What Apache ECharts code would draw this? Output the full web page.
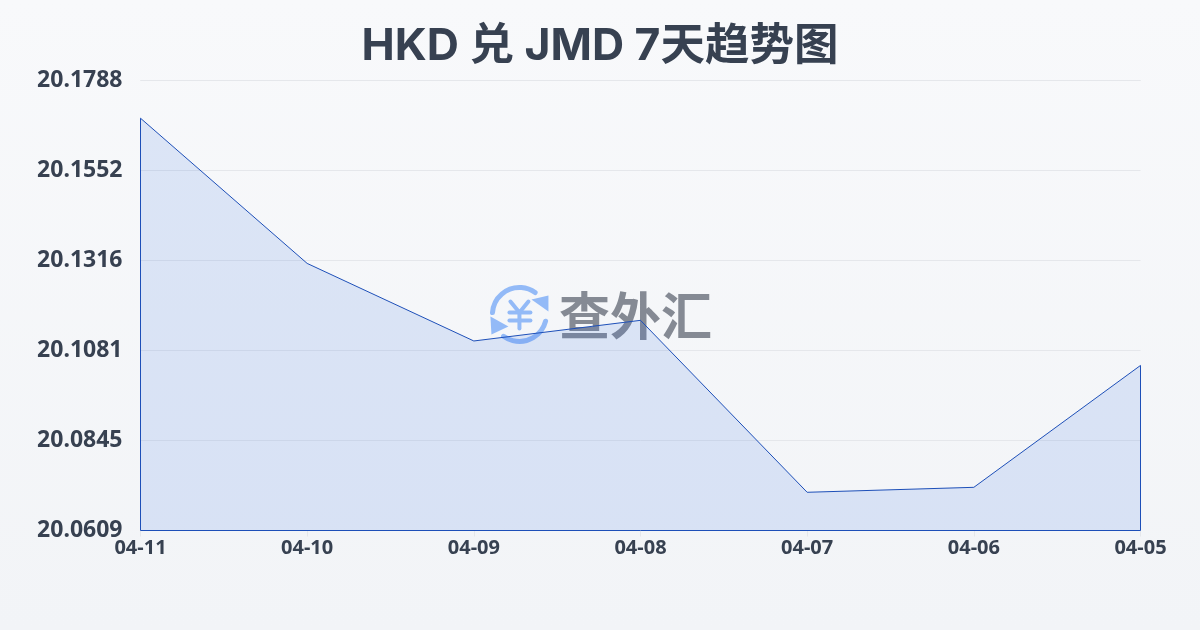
<!DOCTYPE html>
<html><head><meta charset="utf-8">
<style>html,body{margin:0;padding:0;background:#f5f6f9}#c{width:1200px;height:630px}</style>
<script src="https://cdn.jsdelivr.net/npm/echarts@6/dist/echarts.min.js"></script>
</head><body><div id="c"></div>
<script>
const titleText = 'HKD 兑 JMD 7天趋势图';
const dates = ['04-11','04-10','04-09','04-08','04-07','04-06','04-05'];
const rates = [20.1688,20.1308,20.1105,20.1159,20.0709,20.0722,20.1041];
const axisMin = 20.0609, axisMax = 20.1788;
const TITLE_FONT = 'Inter,"Noto Sans CJK SC",sans-serif';
const FONT = '"Noto Sans","Noto Sans CJK SC",sans-serif';
const LOGO = '#93baf7';
const chart = echarts.init(document.getElementById('c'));
const stroke = {stroke:LOGO,lineWidth:4,fill:null,lineCap:'round',lineJoin:'round'};
chart.setOption({
  animation:false,
  backgroundColor:{type:'linear',x:0,y:0,x2:0,y2:1,colorStops:[{offset:0,color:'#f8f9fb'},{offset:1,color:'#f2f4f7'}]},
  title:{text:titleText,left:'center',top:19,textStyle:{fontFamily:TITLE_FONT,fontSize:44.5,fontWeight:'bold',color:'#374151'}},
  grid:{left:140.5,right:59.5,top:80,bottom:99.5},
  graphic:[
    {type:'text',z:-1,left:559,top:290,style:{text:'查外汇',font:'bold 51px "Noto Sans CJK SC"',fill:'#858a94'}},
    {type:'group',z:-1,left:490,top:285,children:[
      {type:'arc',shape:{cx:30,cy:30,r:27,startAngle:-3.07,endAngle:-0.95},style:{stroke:LOGO,lineWidth:5,fill:null,lineCap:'round'}},
      {type:'arc',shape:{cx:30,cy:30,r:27,startAngle:0.25,endAngle:2.2},style:{stroke:LOGO,lineWidth:5,fill:null,lineCap:'round'}},
      {type:'polygon',shape:{points:[[42,15],[59,11],[59,27]]},style:{fill:LOGO}},
      {type:'polygon',shape:{points:[[1,32],[19,42],[2,50]]},style:{fill:LOGO}},
      {type:'polyline',shape:{points:[[21,17],[30,28],[39,17]]},style:stroke},
      {type:'line',shape:{x1:20,y1:28,x2:41,y2:28},style:stroke},
      {type:'line',shape:{x1:20,y1:36,x2:41,y2:36},style:stroke},
      {type:'line',shape:{x1:30,y1:28,x2:30,y2:44},style:stroke}
    ]}
  ],
  xAxis:{type:'category',boundaryGap:false,data:dates,
    axisLine:{show:false},
    axisTick:{show:true,length:6,lineStyle:{color:'#e5e7eb'}},
    axisLabel:{margin:8,fontFamily:FONT,fontSize:20,fontWeight:'bold',color:'#374151',showMinLabel:true,showMaxLabel:true,interval:0},
    splitLine:{show:false}},
  yAxis:{type:'value',min:axisMin,max:axisMax,interval:(axisMax-axisMin)/5,
    axisLine:{show:false},axisTick:{show:false},
    axisLabel:{margin:18,fontFamily:FONT,fontSize:23,fontWeight:'bold',color:'#374151',formatter:v=>v.toFixed(4)},
    splitLine:{show:true,lineStyle:{color:'#e5e7eb',width:1}}},
  series:[
    {type:'line',data:rates,symbol:'none',smooth:false,z:3,
      lineStyle:{color:'#1d4fb8',width:1},
      areaStyle:{color:'rgba(59,110,225,0.2)',origin:'start'}},
    {type:'line',symbol:'none',silent:true,z:3,
      data:[[dates[0],rates[0]],[dates[0],axisMin],[dates[6],axisMin],[dates[6],rates[6]]],
      lineStyle:{color:'#1d4fb8',width:1}}
  ]
});
</script></body></html>
